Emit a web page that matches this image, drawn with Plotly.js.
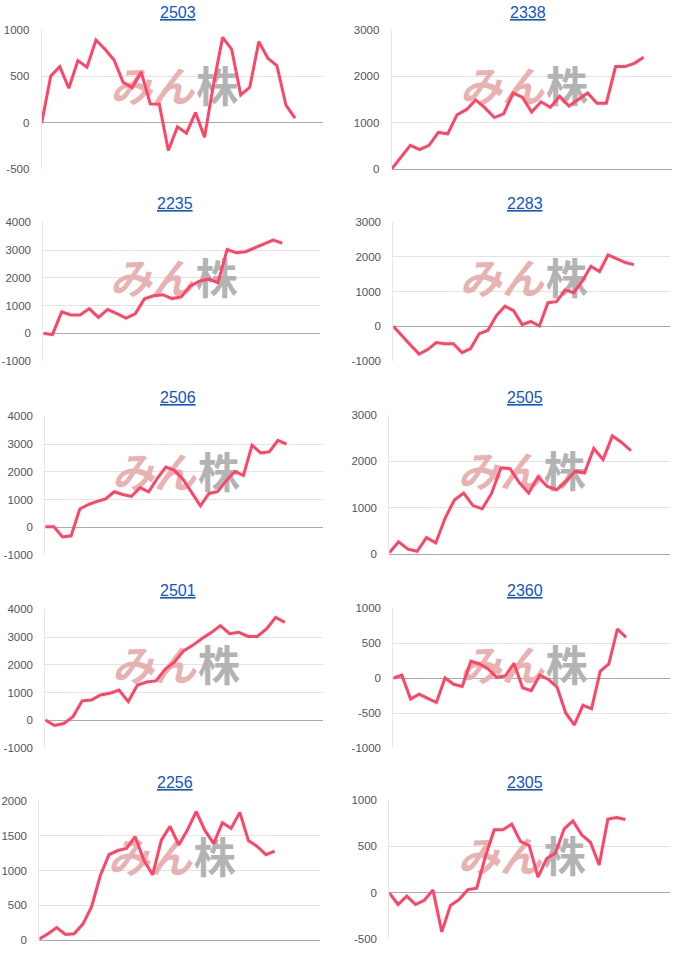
<!DOCTYPE html>
<html>
<head>
<meta charset="utf-8">
<script src="https://cdn.plot.ly/plotly-3.0.1.min.js"></script>
<style>
  html, body { margin: 0; padding: 0; background: #fff; }
  #chart { width: 700px; height: 965px; }
</style>
</head>
<body>
<div id="chart"></div>
<script>
// ========== Data ==========
const codes = ['2503', '2338', '2235', '2283', '2506', '2505', '2501', '2360', '2256', '2305'];

const s2503 = [0, 505, 605, 373, 670, 600, 892, 792, 677, 437, 380, 548, 204, 200, -297, -43, -111, 111, -154, 420, 921, 792, 301, 383, 875, 695, 616, 190, 50];
const s2338 = [0, 255, 510, 420, 510, 790, 760, 1170, 1280, 1490, 1320, 1110, 1190, 1640, 1550, 1230, 1450, 1330, 1570, 1360, 1510, 1640, 1420, 1420, 2210, 2210, 2280, 2410];
const s2235 = [0, -50, 770, 660, 660, 890, 570, 860, 710, 550, 700, 1240, 1350, 1390, 1250, 1310, 1710, 1880, 1950, 1820, 3020, 2900, 2940, 3080, 3200, 3360, 3250];
const s2283 = [0, -280, -540, -800, -670, -470, -500, -500, -760, -640, -210, -120, 310, 580, 450, 50, 140, 10, 680, 710, 1050, 970, 1310, 1730, 1580, 2060, 1950, 1840, 1780];
const s2506 = [20, 20, -350, -310, 660, 820, 930, 1020, 1280, 1180, 1110, 1430, 1280, 1760, 2170, 2050, 1720, 1220, 770, 1220, 1280, 1680, 2010, 1870, 2960, 2680, 2720, 3130, 3000];
const s2505 = [35, 270, 110, 65, 360, 245, 775, 1170, 1320, 1050, 980, 1310, 1860, 1845, 1540, 1320, 1670, 1460, 1390, 1570, 1790, 1750, 2280, 2040, 2550, 2410, 2230];
const s2501 = [10, -190, -120, 130, 700, 730, 910, 970, 1090, 670, 1270, 1380, 1420, 1840, 2090, 2500, 2700, 2950, 3160, 3410, 3120, 3170, 3020, 3020, 3290, 3710, 3530];
const s2360 = [0, 40, -300, -230, -290, -350, 0, -90, -120, 240, 200, 130, 10, 30, 210, -140, -180, 40, -20, -130, -500, -670, -390, -440, 95, 200, 700, 580];
const s2256 = [15, 90, 180, 80, 90, 230, 480, 930, 1230, 1290, 1320, 1490, 1150, 940, 1440, 1640, 1370, 1590, 1850, 1580, 1390, 1690, 1610, 1840, 1430, 1350, 1230, 1280];
const s2305 = [0, -125, -35, -125, -80, 30, -420, -135, -70, 35, 50, 395, 680, 680, 740, 555, 510, 170, 370, 430, 690, 775, 625, 545, 300, 795, 810, 790];

const seriesList = [s2503, s2338, s2235, s2283, s2506, s2505, s2501, s2360, s2256, s2305];

// y axis tick labels per chart
const ticks2503 = [-500, 0, 500, 1000];
const ticks2338 = [0, 1000, 2000, 3000];
const ticks2235 = [-1000, 0, 1000, 2000, 3000, 4000];
const ticks2283 = [-1000, 0, 1000, 2000, 3000];
const ticks2506 = [-1000, 0, 1000, 2000, 3000, 4000];
const ticks2505 = [0, 1000, 2000, 3000];
const ticks2501 = [-1000, 0, 1000, 2000, 3000, 4000];
const ticks2360 = [-1000, -500, 0, 500, 1000];
const ticks2256 = [0, 500, 1000, 1500, 2000];
const ticks2305 = [-500, 0, 500, 1000];

const tickList = [ticks2503, ticks2338, ticks2235, ticks2283, ticks2506, ticks2505, ticks2501, ticks2360, ticks2256, ticks2305];

// ========== Layout boxes (pixels in the 700x965 page) ==========
// l/r/t/b = plot area, tx/ty = title centre, xmax = x extent of the axis
const boxes = [
  { l: 41.7,  r: 322.7, t: 30,    b: 169.3, tx: 178,   ty: 12.3,  xmax: 31.06 },
  { l: 391.7, r: 672.3, t: 30,    b: 169,   tx: 527.7, ty: 12.3,  xmax: 30.07 },
  { l: 43.3,  r: 320,   t: 222.3, b: 361,   tx: 175,   ty: 203.3, xmax: 30.1 },
  { l: 393.3, r: 670,   t: 222.3, b: 361,   tx: 525,   ty: 203.3, xmax: 32.2 },
  { l: 45.3,  r: 322.7, t: 416.3, b: 555,   tx: 178,   ty: 397.7, xmax: 32.2 },
  { l: 389.3, r: 670,   t: 415,   b: 554.3, tx: 525,   ty: 397.7, xmax: 30.2 },
  { l: 45.3,  r: 322.7, t: 609.3, b: 748,   tx: 178,   ty: 590.7, xmax: 30.1 },
  { l: 393.3, r: 670,   t: 608,   b: 748,   tx: 525,   ty: 590.7, xmax: 32.1 },
  { l: 39.3,  r: 320,   t: 801.3, b: 940,   tx: 175,   ty: 782.7, xmax: 32.2 },
  { l: 389.3, r: 670,   t: 800,   b: 939.3, tx: 525,   ty: 782.7, xmax: 32.1 }
];

const W = 700, H = 965;
const LINE_COLOR = '#ff4466';
const MARK_PINK = '#e9b2b2';
const MARK_GRAY = '#b3b3b3';

const traces = [];
const layout = {
  width: W,
  height: H,
  margin: { l: 0, r: 0, t: 0, b: 0 },
  showlegend: false,
  paper_bgcolor: '#fff',
  plot_bgcolor: '#fff',
  font: { family: 'Liberation Sans, Arial, sans-serif', color: '#555' },
  annotations: []
};

codes.forEach((code, i) => {
  const n = i === 0 ? '' : String(i + 1);
  const box = boxes[i];
  const ys = seriesList[i];
  const tk = tickList[i];
  const xs = ys.map((_, j) => j);
  const yMin = tk[0];
  const yMax = tk[tk.length - 1];

  // watermark ("みん株"), sits a little right of and above the plot centre
  const pxToX = box.xmax / (box.r - box.l);
  const pxToY = (yMax - yMin) / (box.b - box.t);
  const xc = box.xmax / 2 + 10 * pxToX;
  const yc = (yMin + yMax) / 2 + 8 * pxToY;
  traces.push({
    x: [xc + 2 * pxToX, xc + 4 * pxToX],
    y: [yc, yc],
    mode: 'text',
    text: ['<i>みん</i>', '株'],
    textposition: ['middle left', 'middle right'],
    textfont: { family: 'Noto Sans CJK JP', size: 42, weight: 'bold', color: [MARK_PINK, MARK_GRAY] },
    cliponaxis: false,
    hoverinfo: 'skip',
    xaxis: 'x' + n,
    yaxis: 'y' + n
  });

  // the series line
  traces.push({
    x: xs,
    y: ys,
    mode: 'lines',
    line: { color: LINE_COLOR, width: 3 },
    hoverinfo: 'skip',
    xaxis: 'x' + n,
    yaxis: 'y' + n
  });

  layout['xaxis' + n] = {
    domain: [box.l / W, box.r / W],
    range: [0, box.xmax],
    anchor: 'y' + n,
    showgrid: false,
    zeroline: false,
    showline: false,
    showticklabels: false,
    fixedrange: true
  };
  layout['yaxis' + n] = {
    domain: [1 - box.b / H, 1 - box.t / H],
    range: [yMin, yMax],
    anchor: 'x' + n,
    tickvals: tk,
    ticktext: tk.map(String),
    ticks: '',
    ticklabelstandoff: 9,
    tickfont: { size: 11.5, color: '#555' },
    showgrid: true,
    gridcolor: '#e3e3e3',
    gridwidth: 1,
    zeroline: true,
    zerolinecolor: '#aaaaaa',
    zerolinewidth: 1,
    showline: true,
    linecolor: '#e6e6e6',
    linewidth: 1,
    fixedrange: true
  };

  // chart title, a link in the original
  layout.annotations.push({
    xref: 'paper',
    yref: 'paper',
    x: box.tx / W,
    y: 1 - box.ty / H,
    xanchor: 'center',
    yanchor: 'middle',
    showarrow: false,
    text: '<span style="text-decoration:underline">' + code + '</span>',
    font: { size: 16, color: '#1155cc' }
  });
});

Plotly.newPlot('chart', traces, layout, { staticPlot: true });
</script>
</body>
</html>
